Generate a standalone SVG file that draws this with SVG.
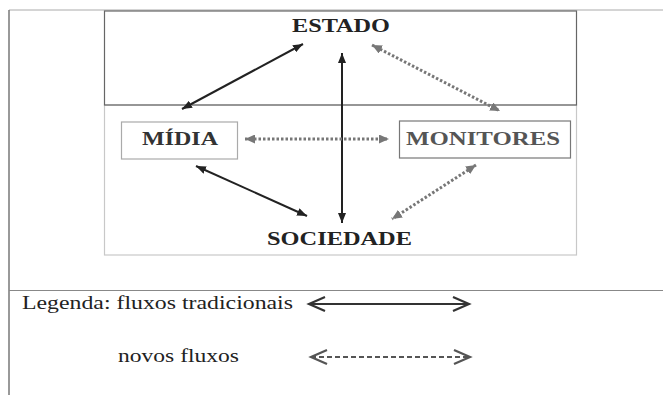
<svg xmlns="http://www.w3.org/2000/svg" width="663" height="395" viewBox="0 0 663 395">
<style>
  .lbl { font-family: "Liberation Serif", "Times New Roman", serif; font-size: 18.5px; }
  .b { font-weight: bold; }
  .solid { stroke: #222; stroke-width: 2; fill: none; }
  .dot { stroke: #777; stroke-width: 3; stroke-dasharray: 2.5 2; fill: none; }
  .leg { stroke: #333; stroke-width: 2; fill: none; }
  .legd { stroke: #555; stroke-width: 2; stroke-dasharray: 5 3; fill: none; }
</style>
<defs>
  <marker id="ah" markerUnits="userSpaceOnUse" markerWidth="11" markerHeight="8" refX="10" refY="4" orient="auto-start-reverse">
    <path d="M0,0 L10,4 L0,8 Z" fill="#222"/>
  </marker>
  <marker id="ahg" markerUnits="userSpaceOnUse" markerWidth="11" markerHeight="9" refX="10" refY="4.5" orient="auto-start-reverse">
    <path d="M0,0 L10,4.5 L0,9 Z" fill="#777"/>
  </marker>
  <marker id="chev" markerUnits="userSpaceOnUse" markerWidth="20" markerHeight="18" refX="17" refY="8" orient="auto-start-reverse">
    <path d="M1,1 L17,8 L1,15" fill="none" stroke="#333" stroke-width="2.2"/>
  </marker>
  <marker id="chevd" markerUnits="userSpaceOnUse" markerWidth="20" markerHeight="18" refX="17" refY="8" orient="auto-start-reverse">
    <path d="M1,1 L17,8 L1,15" fill="none" stroke="#555" stroke-width="2.2"/>
  </marker>
</defs>
<rect width="663" height="395" fill="#fff"/>
<g id="frame">
  <line x1="9" y1="10" x2="663" y2="10" stroke="#aaa" stroke-width="1"/>
  <line x1="9" y1="10" x2="9" y2="395" stroke="#777" stroke-width="1.5"/>
  <line x1="9" y1="290.5" x2="663" y2="290.5" stroke="#888" stroke-width="1.2"/>
</g>
<g id="society-box">
  <rect x="104.5" y="105" width="472" height="150" fill="none" stroke="#c8c8c8" stroke-width="1.2"/>
</g>
<g id="estado">
  <rect x="104.5" y="11" width="472" height="94" fill="none" stroke="#666" stroke-width="1.2"/>
  <text class="lbl b" x="292" y="32" fill="#222" textLength="98" lengthAdjust="spacingAndGlyphs">ESTADO</text>
</g>
<g id="midia">
  <rect x="121.5" y="122" width="116" height="37" fill="none" stroke="#aaa" stroke-width="1.2"/>
  <text class="lbl b" x="142" y="144.5" fill="#333" textLength="76" lengthAdjust="spacingAndGlyphs">MÍDIA</text>
</g>
<g id="monitores">
  <rect x="399.5" y="121" width="171" height="37" fill="none" stroke="#777" stroke-width="1.2"/>
  <text class="lbl b" x="406" y="144.5" fill="#555" textLength="154" lengthAdjust="spacingAndGlyphs">MONITORES</text>
</g>
<g id="sociedade">
  <text class="lbl b" x="267" y="245" fill="#222" textLength="145" lengthAdjust="spacingAndGlyphs">SOCIEDADE</text>
</g>
<g id="connectors">
  <line class="solid" x1="182" y1="109" x2="303" y2="44" marker-start="url(#ah)" marker-end="url(#ah)"/>
  <line class="solid" x1="342" y1="53" x2="342" y2="223" marker-start="url(#ah)" marker-end="url(#ah)"/>
  <line class="solid" x1="196" y1="166" x2="307" y2="216" marker-start="url(#ah)" marker-end="url(#ah)"/>
  <line class="dot" x1="372" y1="45" x2="500" y2="111" marker-start="url(#ahg)" marker-end="url(#ahg)"/>
  <line class="dot" x1="245" y1="139" x2="389" y2="139" marker-start="url(#ahg)" marker-end="url(#ahg)"/>
  <line class="dot" x1="476" y1="165" x2="392" y2="219" marker-start="url(#ahg)" marker-end="url(#ahg)"/>
</g>
<g id="legend">
  <text class="lbl" x="22" y="308.5" fill="#222" textLength="271" lengthAdjust="spacingAndGlyphs">Legenda: fluxos tradicionais</text>
  <line class="leg" x1="309" y1="304" x2="469" y2="304" marker-start="url(#chev)" marker-end="url(#chev)"/>
  <text class="lbl" x="118" y="362" fill="#222" textLength="121" lengthAdjust="spacingAndGlyphs">novos fluxos</text>
  <line class="legd" x1="311" y1="357" x2="470" y2="357" marker-start="url(#chevd)" marker-end="url(#chevd)"/>
</g>
</svg>
